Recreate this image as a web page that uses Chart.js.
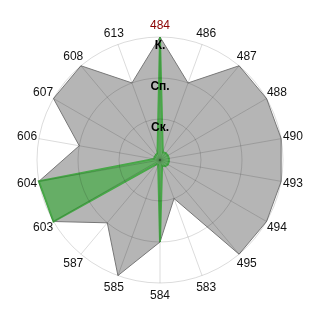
<!DOCTYPE html>
<html>
<head>
<meta charset="utf-8">
<script src="https://cdn.jsdelivr.net/npm/chart.js@4/dist/chart.umd.min.js"></script>
<style>
html,body{margin:0;padding:0;background:#fff;}
#wrap{width:320px;height:320px;}
</style>
</head>
<body>
<div id="wrap"><canvas id="c" width="320" height="320"></canvas></div>
<script>
const categories = ['484','486','487','488','490','493','494','495','583','584','585','587','603','604','606','607','608','613'];
const grayValues = [3,2,3,3,3,3,3,3,1,2,3,2,3,3,2,3,3,2];
const greenValues = [3,0.2,0.22,0.22,0.22,0.22,0.22,0.2,0.15,2,0.13,0.13,3,3,0.15,0.15,0.16,0.18];
const tickLabels = {1:'Ск.', 2:'Сп.', 3:'К.'};
const highlightLabel = '484';

const labelFont = '12px "Liberation Sans", Arial, sans-serif';

const pointLabelPlugin = {
  id: 'centeredPointLabels',
  afterDraw(chart) {
    const scale = chart.scales.r;
    const ctx = chart.ctx;
    ctx.save();
    ctx.font = labelFont;
    ctx.textAlign = 'center';
    ctx.textBaseline = 'middle';
    categories.forEach((lab, i) => {
      const p = scale.getPointPosition(i, scale.drawingArea + 12);
      ctx.fillStyle = lab === highlightLabel ? '#8b0000' : '#111';
      ctx.fillText(lab, p.x, p.y + 0.5);
    });
    ctx.restore();
  }
};

new Chart(document.getElementById('c'), {
  type: 'radar',
  data: {
    labels: categories,
    datasets: [
      {
        data: greenValues,
        backgroundColor: 'rgba(50,170,50,0.6)',
        borderColor: '#48a848',
        borderWidth: 2,
        pointRadius: 0,
        fill: true
      },
      {
        data: grayValues,
        backgroundColor: 'rgba(128,128,128,0.58)',
        borderColor: '#777777',
        borderWidth: 1,
        pointRadius: 0,
        fill: true
      }
    ]
  },
  plugins: [pointLabelPlugin],
  options: {
    responsive: false,
    animation: false,
    devicePixelRatio: 1,
    layout: { padding: { left: 31, right: 31, top: 31, bottom: 31 } },
    plugins: { legend: { display: false }, tooltip: { enabled: false } },
    elements: { line: { tension: 0 } },
    scales: {
      r: {
        min: 0,
        max: 3,
        ticks: {
          z: 1,
          stepSize: 1,
          showLabelBackdrop: false,
          backdropPadding: 0,
          color: '#000',
          font: { family: '"Liberation Sans", Arial, sans-serif', size: 12, weight: 'bold', lineHeight: '9px' },
          callback: (v) => ['', tickLabels[v] || '']
        },
        grid: { z: 1, circular: true, color: 'rgba(0,0,0,0.14)', lineWidth: 1 },
        angleLines: { color: 'rgba(0,0,0,0.14)', lineWidth: 1 },
        pointLabels: { display: false }
      }
    }
  }
});
</script>
</body>
</html>
